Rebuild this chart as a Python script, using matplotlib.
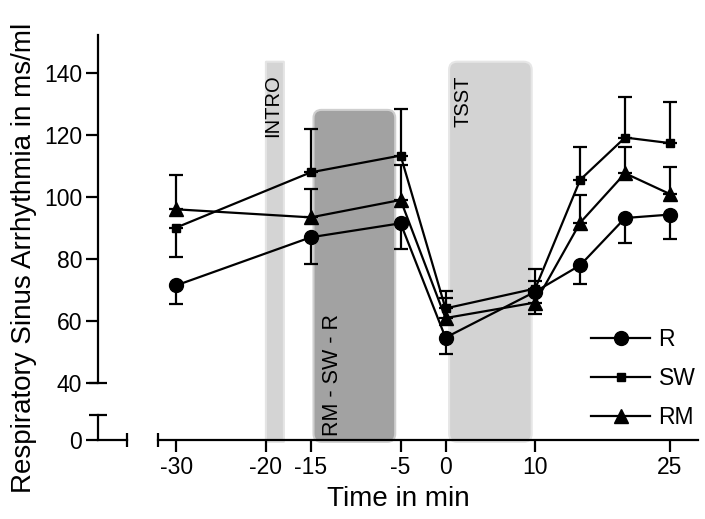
import numpy as np
import matplotlib.pyplot as plt
from matplotlib.patches import FancyBboxPatch
from matplotlib.transforms import blended_transform_factory

plt.rcParams['font.family'] = ['Liberation Sans', 'DejaVu Sans']

# 时间点 (min)
minutes = [-30, -15, -5, 0, 10, 15, 20, 25]

# 各条件的均值与误差 (单侧误差棒, +1 向上, -1 向下)
r_mean = [71.5, 87.0, 91.5, 54.7, 69.5, 78.0, 93.2, 94.3]
r_err = [6.0, 8.6, 8.3, 5.4, 3.5, 6.0, 8.0, 7.8]
r_dir = [-1, -1, -1, -1, 1, -1, -1, -1]

sw_mean = [90.1, 107.9, 113.3, 64.1, 70.5, 105.5, 119.1, 117.3]
sw_err = [9.3, 13.9, 15.0, 5.7, 6.2, 10.5, 13.2, 13.3]
sw_dir = [-1, 1, 1, 1, 1, 1, 1, 1]

rm_mean = [96.0, 93.4, 99.0, 61.0, 66.0, 91.7, 107.6, 100.9]
rm_err = [11.0, 9.2, 11.1, 6.5, 3.7, 8.9, 8.4, 8.6]
rm_dir = [1, 1, 1, 1, -1, 1, 1, 1]

# 实验阶段
phase_labels = ['INTRO', 'RM - SW - R', 'TSST']
phase_start = [-20, -15, 0]
phase_end = [-18, -5, 10]
phase_top = [143.5, 128.0, 143.5]

xticks = [-30, -20, -15, -5, 0, 10, 25]
yticks_top = [40, 60, 80, 100, 120, 140]

# 断轴: 下段 0-8 平移到 40 以下
low_shift = 21.75
y_top = 152.1
x_left, x_right = -38.7, 28.12

fig = plt.figure(figsize=(7.05, 5.19), dpi=100)
ax = fig.add_axes([98 / 705, 79 / 519, 600 / 705, 405 / 519])
ax.set_xlim(x_left, x_right)
ax.set_ylim(low_shift, y_top)

# 阶段色块
aspect = (600 / (x_right - x_left)) / (405 / (y_top - low_shift))
styles = [
    dict(fc='#d4d4d4', ec='#e4e4e4', inset=(0.0, 0.0), rnd=0.05),
    dict(fc='#a2a2a2', ec='#cfcfcf', inset=(0.3, 0.6), rnd=0.9),
    dict(fc='#d3d3d3', ec='#e6e6e6', inset=(0.4, 0.4), rnd=0.9),
]
for lab, s, e, top, st in zip(phase_labels, phase_start, phase_end, phase_top, styles):
    x0 = s + st['inset'][0]
    x1 = e - st['inset'][1]
    box = FancyBboxPatch((x0, low_shift - 0.6), x1 - x0, top - low_shift + 0.6,
                         boxstyle=f"round,pad=0,rounding_size={st['rnd']}",
                         mutation_aspect=aspect, fc=st['fc'], ec=st['ec'], lw=1.5,
                         zorder=1, clip_on=False)
    ax.add_patch(box)

ax.text(phase_start[0] + 0.7, phase_top[0] - 4.0, phase_labels[0], rotation=90,
        ha='center', va='top', fontsize=14.5, zorder=2)
ax.text(phase_start[1] + 2.4, low_shift + 1.2, phase_labels[1], rotation=90,
        ha='center', va='bottom', fontsize=15.5, zorder=2)
ax.text(phase_start[2] + 1.9, phase_top[2] - 4.5, phase_labels[2], rotation=90,
        ha='center', va='top', fontsize=14.5, zorder=2)


def one_sided(err, direction):
    err = np.array(err)
    d = np.array(direction)
    lower = np.where(d < 0, err, 0)
    upper = np.where(d > 0, err, 0)
    return [lower, upper]


series = [
    ('R', r_mean, r_err, r_dir, 'o', 10),
    ('SW', sw_mean, sw_err, sw_dir, 's', 5.5),
    ('RM', rm_mean, rm_err, rm_dir, '^', 9.5),
]
handles = []
for name, mean, err, d, mk, ms in series:
    cont = ax.errorbar(minutes, mean, yerr=one_sided(err, d), color='black', lw=1.6,
                       marker=mk, ms=ms, capsize=5, capthick=1.6, elinewidth=1.6,
                       label=name, zorder=3)
    handles.append(cont[0])

# 坐标轴
for sp in ['top', 'right']:
    ax.spines[sp].set_visible(False)
ax.spines['left'].set_bounds(40, y_top)
ax.spines['bottom'].set_bounds(-32.0, x_right)
for sp in ['left', 'bottom']:
    ax.spines[sp].set_linewidth(1.6)
    ax.spines[sp].set_zorder(4)

ax.set_xticks(xticks)
ax.set_xticklabels([str(t) for t in xticks])
ax.set_yticks([low_shift] + yticks_top)
ax.set_yticklabels(['0'] + [str(t) for t in yticks_top])
ax.tick_params(axis='both', length=8.5, width=1.6, labelsize=16.5, pad=3)

tr = blended_transform_factory(ax.transAxes, ax.transData)
# 下段 y 轴
ax.plot([0, 0], [low_shift, low_shift + 8], color='black', lw=1.6, transform=tr,
        clip_on=False, zorder=4)
ax.plot([0, 0], [low_shift + 8, 40], color='black', lw=0, marker='_', ms=13, mew=1.6,
        transform=tr, clip_on=False, zorder=4)
# 下段 x 轴
ax.plot([x_left, -35.5], [low_shift, low_shift], color='black', lw=1.6, clip_on=False, zorder=4)
ax.plot([-35.5, -32.0], [low_shift, low_shift], color='black', lw=0, marker='|', ms=10,
        mew=1.6, clip_on=False, zorder=4)

ax.set_xlabel('Time in min', fontsize=20, labelpad=5)
ax.set_ylabel('Respiratory Sinus Arrhythmia in ms/ml', fontsize=20)
ax.yaxis.set_label_coords(-0.102, 0.45)

ax.legend(handles=handles, labels=[s[0] for s in series], loc='lower right',
          bbox_to_anchor=(1.03, -0.025), frameon=False, fontsize=16.5,
          handlelength=2.6, labelspacing=0.7, handletextpad=0.35)

fig.savefig('out.png', dpi=100)
